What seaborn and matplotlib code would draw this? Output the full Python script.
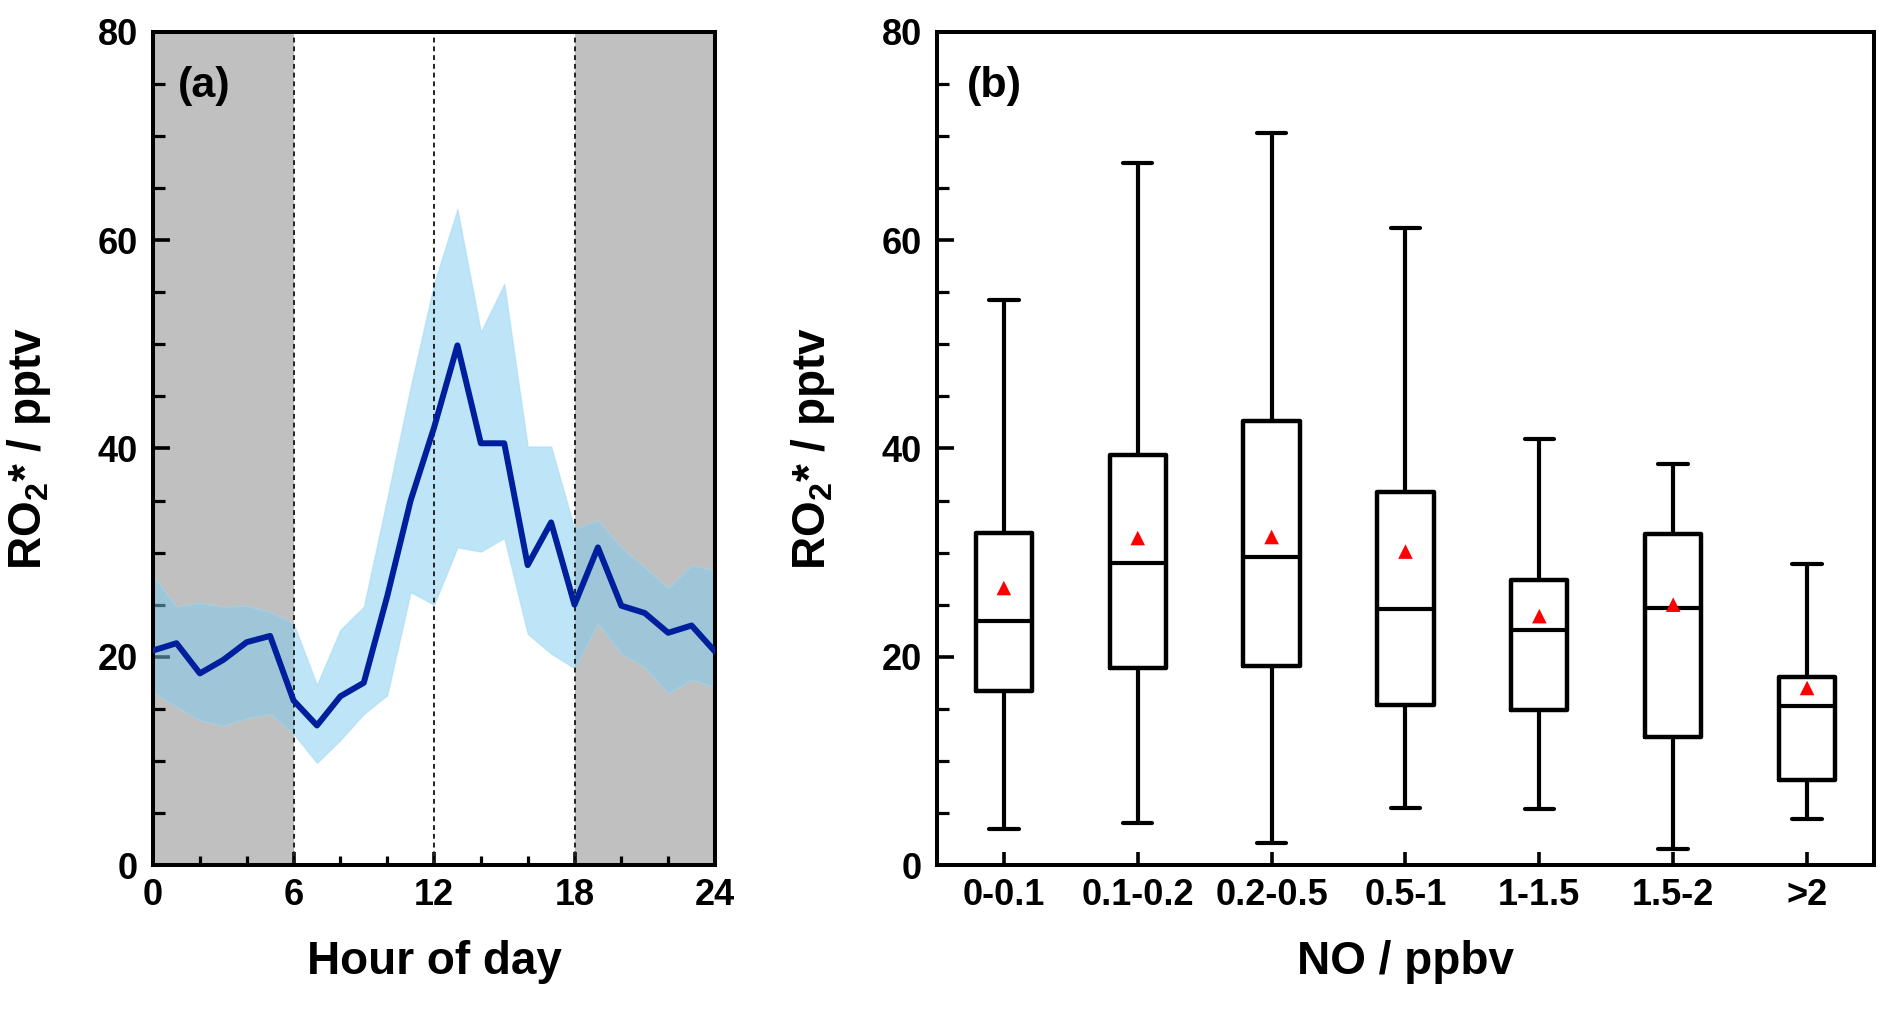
import numpy as np
import pandas as pd
import matplotlib
matplotlib.use("Agg")
import matplotlib.pyplot as plt
from matplotlib.ticker import MultipleLocator
import seaborn as sns

# ---------------- data ----------------
hours = list(range(25))
ro2_mean = [20.6, 21.3, 18.4, 19.7, 21.4, 22.0, 15.8, 13.4, 16.2, 17.5, 25.8, 35.0, 42.0,
            49.9, 40.5, 40.5, 28.8, 32.9, 25.0, 30.5, 24.9, 24.2, 22.3, 23.0, 20.5]
ro2_upper = [27.8, 24.8, 25.2, 24.8, 24.9, 24.3, 23.2, 17.3, 22.6, 24.8, 35.2, 45.9, 55.8,
             63.0, 51.2, 55.8, 40.2, 40.2, 32.3, 33.1, 30.5, 28.6, 26.6, 28.8, 28.3]
ro2_lower = [16.6, 15.2, 13.9, 13.4, 14.1, 14.5, 12.6, 9.8, 12.0, 14.5, 16.3, 26.2, 25.0,
             30.5, 30.1, 31.4, 22.2, 20.3, 18.9, 23.2, 20.3, 19.0, 16.5, 17.8, 17.1]
night_spans = [(0, 6), (18, 24)]
dash_hours = [6, 12, 18]

no_bins = ["0-0.1", "0.1-0.2", "0.2-0.5", "0.5-1", "1-1.5", "1.5-2", ">2"]
box_low = [3.5, 4.0, 2.1, 5.5, 5.4, 1.5, 4.4]
box_q1 = [16.7, 18.9, 19.1, 15.4, 14.9, 12.3, 8.2]
box_med = [23.4, 29.0, 29.6, 24.6, 22.6, 24.7, 15.3]
box_q3 = [31.9, 39.4, 42.6, 35.8, 27.4, 31.8, 18.1]
box_high = [54.3, 67.4, 70.3, 61.2, 40.9, 38.5, 28.9]
box_mean = [26.6, 31.4, 31.5, 30.1, 23.9, 25.0, 17.0]

# ---------------- style ----------------
sns.set_style("ticks")
plt.rcParams["font.family"] = ["Liberation Sans", "DejaVu Sans"]
plt.rcParams["font.weight"] = "bold"
plt.rcParams["axes.labelweight"] = "bold"
plt.rcParams["text.color"] = "black"
plt.rcParams["axes.labelcolor"] = "black"
plt.rcParams["xtick.color"] = "black"
plt.rcParams["ytick.color"] = "black"
plt.rcParams["xtick.labelcolor"] = "black"
plt.rcParams["ytick.labelcolor"] = "black"
plt.rcParams["mathtext.fontset"] = "custom"
plt.rcParams["mathtext.rm"] = "Liberation Sans:bold"
plt.rcParams["mathtext.bf"] = "Liberation Sans:bold"
plt.rcParams["mathtext.it"] = "Liberation Sans:bold"

fig = plt.figure(figsize=(18.92, 10.11), dpi=100)
axA = fig.add_axes([0.0809, 0.1444, 0.2970, 0.8240])
axB = fig.add_axes([0.4952, 0.1444, 0.4953, 0.8240])

ylab = r"RO$_{\mathbf{2}}$* / pptv"
spine_w = 2.9
TICK_FS = 26
LAB_FS = 33

def style_axes(ax):
    for s in ax.spines.values():
        s.set_linewidth(spine_w)
        s.set_color("black")
        s.set_visible(True)
    ax.tick_params(axis="y", which="major", direction="in", length=12, width=2.6,
                   labelsize=TICK_FS, pad=11, left=True, right=False, colors="black")
    ax.tick_params(axis="y", which="minor", direction="in", length=8.5, width=2.3,
                   left=True, right=False, colors="black")
    ax.tick_params(axis="x", which="major", direction="in", length=9.5, width=2.6,
                   labelsize=TICK_FS, pad=9, bottom=True, top=False, colors="black")
    ax.tick_params(axis="x", which="minor", direction="in", length=6.5, width=2.3,
                   bottom=True, top=False, colors="black")
    for lab in ax.get_xticklabels() + ax.get_yticklabels():
        lab.set_fontweight("bold")
        lab.set_color("black")
    ax.set_ylim(0, 80)
    ax.yaxis.set_major_locator(MultipleLocator(20))
    ax.yaxis.set_minor_locator(MultipleLocator(5))

# ---------------- panel (a) ----------------
for a, b in night_spans:
    axA.axvspan(a, b, color="#c0c0c0", zorder=0, lw=0)
axA.fill_between(hours, ro2_lower, ro2_upper, facecolor="#7fcdf0", alpha=0.5,
                 edgecolor="#9fd8f2", linewidth=1.0, zorder=1)
for h in dash_hours:
    axA.axvline(h, color="#222222", lw=1.4, ls=(0, (2.5, 2)), zorder=2)
sns.lineplot(x=hours, y=ro2_mean, ax=axA, color="#001f9c", lw=4.3, zorder=3)
axA.set_xlim(0, 24)
axA.xaxis.set_major_locator(MultipleLocator(6))
axA.xaxis.set_minor_locator(MultipleLocator(2))
style_axes(axA)
axA.set_xlabel("Hour of day", fontsize=LAB_FS, fontweight="bold", color="black")
axA.set_ylabel(ylab, fontsize=LAB_FS, fontweight="bold", color="black")
axA.xaxis.set_label_coords(0.5, -0.090)
axA.yaxis.set_label_coords(-0.178, 0.5)
axA.text(0.045, 0.935, "(a)", transform=axA.transAxes, fontsize=31,
         fontweight="bold", ha="left", va="center", color="black")

# ---------------- panel (b) ----------------
stats = []
for i, name in enumerate(no_bins):
    stats.append(dict(label=name, whislo=box_low[i], q1=box_q1[i], med=box_med[i],
                      q3=box_q3[i], whishi=box_high[i], mean=box_mean[i], fliers=[]))
line_kw = dict(color="black", linewidth=3.0)
axB.bxp(stats, positions=list(range(len(no_bins))), widths=0.42, capwidths=0.22,
        showmeans=False, showfliers=False, patch_artist=False,
        boxprops=dict(color="black", linewidth=3.2),
        medianprops=dict(color="black", linewidth=3.0),
        whiskerprops=line_kw, capprops=line_kw, manage_ticks=False)
mean_df = pd.DataFrame({"pos": list(range(len(no_bins))), "mean": box_mean})
sns.scatterplot(data=mean_df, x="pos", y="mean", ax=axB, marker="^", color="red",
                s=110, edgecolor="none", zorder=5)
axB.set_xlim(-0.5, len(no_bins) - 0.5)
axB.set_xticks(list(range(len(no_bins))))
axB.set_xticklabels(no_bins)
axB.xaxis.set_minor_locator(matplotlib.ticker.NullLocator())
style_axes(axB)
axB.set_xlabel("NO / ppbv", fontsize=LAB_FS, fontweight="bold", color="black")
axB.set_ylabel(ylab, fontsize=LAB_FS, fontweight="bold", color="black")
axB.xaxis.set_label_coords(0.5, -0.090)
axB.yaxis.set_label_coords(-0.107, 0.5)
axB.text(0.032, 0.935, "(b)", transform=axB.transAxes, fontsize=31,
         fontweight="bold", ha="left", va="center", color="black")

fig.savefig("out.png", dpi=100)
